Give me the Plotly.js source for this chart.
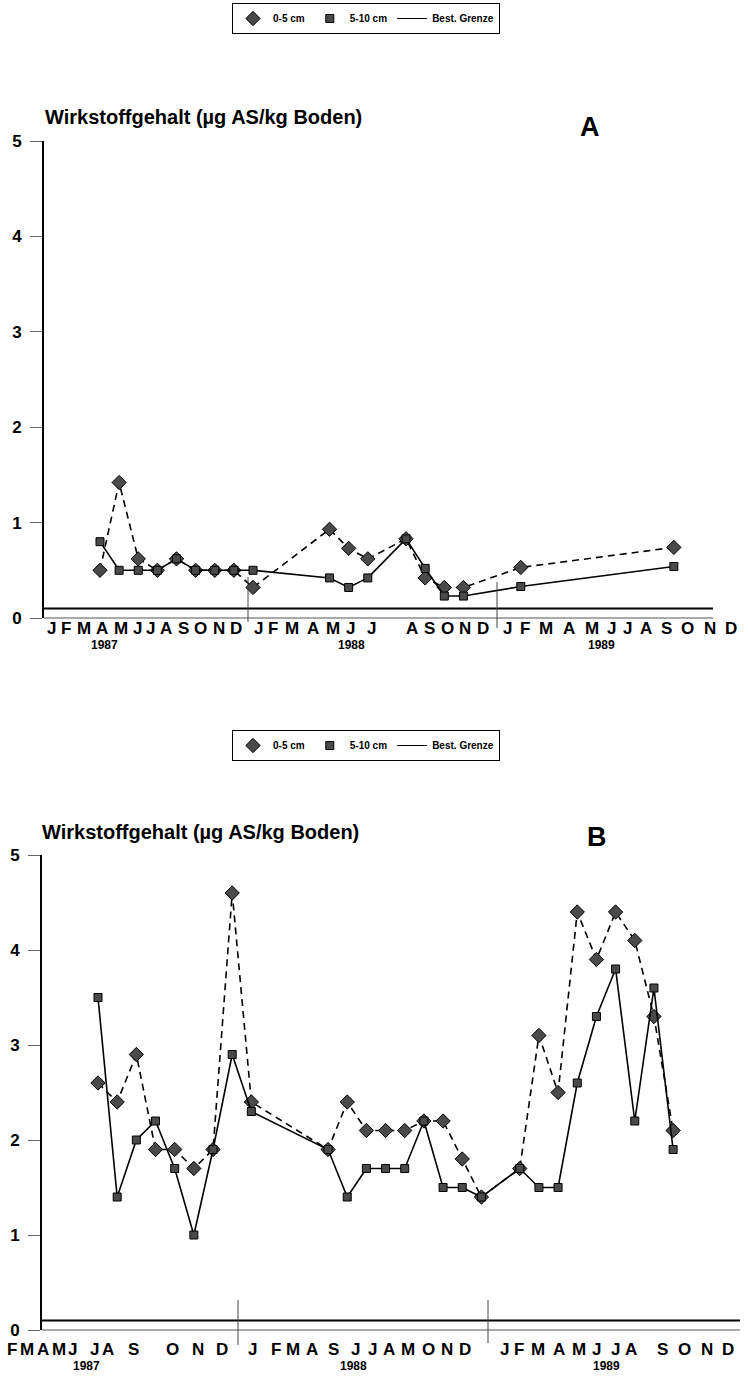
<!DOCTYPE html>
<html><head><meta charset="utf-8">
<script src="https://cdn.plot.ly/plotly-3.0.1.min.js"></script>
<style>body{margin:0;background:#fff}#chart{width:748px;height:1379px}</style>
</head><body><div id="chart"></div>
<script>
// ---------------- DATA ----------------
const seriesNames = ['0-5 cm', '5-10 cm', 'Best. Grenze'];
const yTitle = 'Wirkstoffgehalt (µg AS/kg Boden)';
const panelLetters = ['A', 'B'];
const yearLabels = ['1987', '1988', '1989'];
// month letters printed under the axes
const monthTextA = ['J','F','M','A','M','J','J','A','S','O','N','D',
                    'J','F','M','A','M','J','J','A','S','O','N','D',
                    'J','F','M','A','M','J','J','A','S','O','N','D'];
const monthTextB = ['F','M','A','M','J','J','A','S','O','N','D',
                    'J','F','M','A','S','J','J','A','M','O','N','D',
                    'J','F','M','A','M','J','J','A','S','O','N','D'];
// sampling month (0 = January 1987)
const monthsA = [3,4,5,6,7,8,9,10,11,15,16,17,19,20,21,22,25,33];
const a0to5  = [0.5,1.42,0.62,0.5,0.62,0.5,0.5,0.5,0.32,0.93,0.73,0.62,0.83,0.42,0.32,0.32,0.53,0.74];
const a5to10 = [0.8,0.5,0.5,0.5,0.62,0.5,0.5,0.5,0.5,0.42,0.32,0.42,0.83,0.52,0.23,0.23,0.33,0.54];
const monthsB = [3,4,5,6,7,8,9,10,11,15,16,17,18,19,20,21,22,23,25,26,27,28,29,30,31,32,33];
const b0to5  = [2.6,2.4,2.9,1.9,1.9,1.7,1.9,4.6,2.4,1.9,2.4,2.1,2.1,2.1,2.2,2.2,1.8,1.4,1.7,3.1,2.5,4.4,3.9,4.4,4.1,3.3,2.1];
const b5to10 = [3.5,1.4,2.0,2.2,1.7,1.0,1.9,2.9,2.3,1.9,1.4,1.7,1.7,1.7,2.2,1.5,1.5,1.4,1.7,1.5,1.5,2.6,3.3,3.8,2.2,3.6,1.9];
const grenze = 0.1;
const yTicks = [0,1,2,3,4,5];

// ---------------- LAYOUT HELPERS ----------------
const W = 748, H = 1379;
const px = v => v / W;
const py = v => 1 - v / H;
const FONT = 'Liberation Sans, Arial, sans-serif';

// groups of month letters: [count, left px, right px]
const groupsA = [[12,45,245],[6,251,358],[1,364,378],[5,403,492],[12,500,741]];
const groupsB = [[5,6,78],[2,89,116],[1,126,141],[3,160,234],[1,246,258],[3,269,320],[1,327,340],[1,349,361],[6,366,474],[6,497,604],[2,609,640],[4,652,739]];
const yearPxA = [104,351,601], yearPxB = [86,353,606];
const letterW = {J:0.62, F:0.72, M:0.95, A:0.82, S:0.78, O:0.88, N:0.82, D:0.82};

function letterCenters(text, groups) {
  const out = []; let k = 0;
  groups.forEach(([n, s, e]) => {
    const ws = text.slice(k, k + n).map(c => letterW[c]);
    const tot = ws.reduce((a, b) => a + b, 0);
    let acc = 0;
    ws.forEach(w => { out.push(s + (acc + w / 2) / tot * (e - s)); acc += w; });
    k += n;
  });
  return out;
}

const diamond = {symbol:'diamond', size:11, color:'#4a4a4a', line:{color:'#000', width:1}};
const square  = {symbol:'square', size:8, color:'#4a4a4a', line:{color:'#000', width:1}};

function panelTraces(xa, ya, months, s1, s2, leg) {
  return [
    {x: months, y: s1, xaxis: xa, yaxis: ya, mode: 'lines+markers', showlegend: false,
     line: {color: '#000', width: 1.6, dash: '7px,5px'}, marker: diamond, name: seriesNames[0]},
    {x: months, y: s2, xaxis: xa, yaxis: ya, mode: 'lines+markers', showlegend: false,
     line: {color: '#000', width: 1.6}, marker: square, name: seriesNames[1]},
    // legend-only entries
    {x: [null], y: [null], xaxis: xa, yaxis: ya, mode: 'markers', marker: diamond, name: seriesNames[0], legend: leg},
    {x: [null], y: [null], xaxis: xa, yaxis: ya, mode: 'markers', marker: square, name: seriesNames[1], legend: leg},
    {x: [null], y: [null], xaxis: xa, yaxis: ya, mode: 'lines', line: {color: '#000', width: 1}, name: seriesNames[2], legend: leg}
  ];
}

const data = [
  ...panelTraces('x', 'y', monthsA, a0to5, a5to10, 'legend'),
  ...panelTraces('x2', 'y2', monthsB, b0to5, b5to10, 'legend2')
];

const yAxisBase = {
  range: [0, 5], tickvals: yTicks, ticks: 'outside', ticklen: 12, tickwidth: 1, tickcolor: '#666',
  showline: true, linewidth: 2, linecolor: '#000', showgrid: false, zeroline: false,
  tickfont: {family: FONT, size: 17, weight: 'bold', color: '#000'}, ticklabelstandoff: 5, fixedrange: true
};
const xAxisBase = {showline: false, showgrid: false, zeroline: false, showticklabels: false, ticks: '', fixedrange: true};

const annotations = [];
const shapes = [];

function addPanel(letterIdx, monthText, groups, yearPx, monthY, yearY, titleX, titleY, letterX, letterY, yref, leftPx, axisEndPx, dividers) {
  const centers = letterCenters(monthText, groups);
  monthText.forEach((t, i) => annotations.push({xref:'paper', yref:'paper', x: px(centers[i]), y: py(monthY),
    text: t, showarrow: false, xanchor: 'center', yanchor: 'middle',
    font: {family: FONT, size: 17, weight: 'bold', color: '#000'}}));
  yearLabels.forEach((t, i) => annotations.push({xref:'paper', yref:'paper', x: px(yearPx[i]), y: py(yearY),
    text: t, showarrow: false, xanchor: 'center', yanchor: 'middle',
    font: {family: FONT, size: 12, weight: 'bold', color: '#000'}}));
  annotations.push({xref:'paper', yref:'paper', x: px(titleX), y: py(titleY), text: yTitle, showarrow: false,
    xanchor: 'left', yanchor: 'middle', font: {family: FONT, size: 20, weight: 'bold', color: '#000'}});
  annotations.push({xref:'paper', yref:'paper', x: px(letterX), y: py(letterY), text: panelLetters[letterIdx], showarrow: false,
    xanchor: 'center', yanchor: 'middle', font: {family: FONT, size: 27, weight: 'bold', color: '#000'}});
  shapes.push({type:'line', xref:'paper', yref: yref + ' domain', x0: px(leftPx), x1: px(axisEndPx), y0: 0, y1: 0,
    line: {color: '#555', width: 1}});
  shapes.push({type:'line', xref:'paper', yref: yref, x0: px(leftPx), x1: px(axisEndPx), y0: grenze, y1: grenze,
    line: {color: '#000', width: 2}});
  dividers.forEach(d => shapes.push({type:'line', xref:'paper', yref:'paper', x0: px(d[0]), x1: px(d[0]),
    y0: py(d[1]), y1: py(d[2]), line: {color: '#444', width: 1}}));
}

addPanel(0, monthTextA, groupsA, yearPxA, 628, 645, 43, 117, 590, 127, 'y', 44, 713, [[248, 577, 622], [497, 582, 628]]);
addPanel(1, monthTextB, groupsB, yearPxB, 1349, 1366, 40, 832, 597, 837, 'y2', 42, 740, [[238, 1300, 1345], [488, 1300, 1343]]);

const legendBase = {orientation: 'h', bordercolor: '#000', borderwidth: 1, bgcolor: '#fff',
  font: {family: FONT, size: 10, weight: 'bold', color: '#000'}, xanchor: 'left', yanchor: 'top', itemwidth: 30};

const layout = {
  width: W, height: H, margin: {l: 0, r: 0, t: 0, b: 0},
  paper_bgcolor: '#fff', plot_bgcolor: 'rgba(0,0,0,0)',
  xaxis:  Object.assign({}, xAxisBase, {domain: [px(44), px(745)], range: [0.073, 36.72], anchor: 'y'}),
  yaxis:  Object.assign({}, yAxisBase, {domain: [py(618), py(141)], anchor: 'x'}),
  xaxis2: Object.assign({}, xAxisBase, {domain: [px(42), px(745)], range: [0.078, 36.75], anchor: 'y2'}),
  yaxis2: Object.assign({}, yAxisBase, {domain: [py(1330), py(855)], anchor: 'x2'}),
  legend:  Object.assign({}, legendBase, {x: px(232), y: py(3)}),
  legend2: Object.assign({}, legendBase, {x: px(232), y: py(730)}),
  annotations: annotations, shapes: shapes, showlegend: true
};

Plotly.newPlot('chart', data, layout, {staticPlot: true, displayModeBar: false});
</script>
</body></html>
